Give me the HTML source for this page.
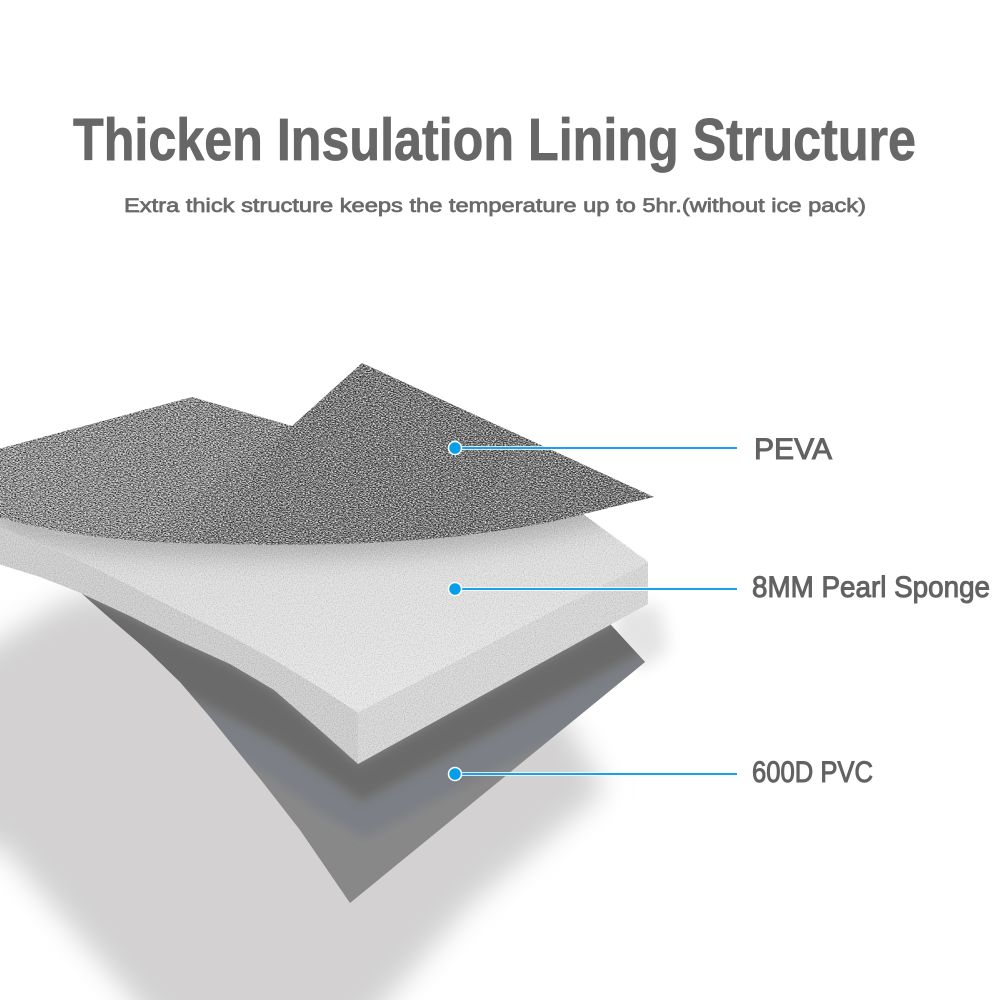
<!DOCTYPE html>
<html>
<head>
<meta charset="utf-8">
<style>
  html,body{margin:0;padding:0;background:#fff;}
  body{width:1000px;height:1000px;overflow:hidden;}
  svg{display:block;}
  text{font-family:"Liberation Sans", Arial, sans-serif;}
</style>
</head>
<body>
<svg width="1000" height="1000" viewBox="0 0 1000 1000" xmlns="http://www.w3.org/2000/svg">
  <defs>
    <filter id="b5" x="-20%" y="-20%" width="140%" height="140%"><feGaussianBlur stdDeviation="5"/></filter>
    <filter id="b8" x="-20%" y="-20%" width="140%" height="140%"><feGaussianBlur stdDeviation="8"/></filter>
    <filter id="b12" x="-20%" y="-20%" width="140%" height="140%"><feGaussianBlur stdDeviation="12"/></filter>
    <filter id="b14" x="-20%" y="-20%" width="140%" height="140%"><feGaussianBlur stdDeviation="14"/></filter>

    <filter id="fab" x="0" y="0" width="100%" height="100%" color-interpolation-filters="sRGB">
      <feTurbulence type="fractalNoise" baseFrequency="0.6 1.2" numOctaves="2" seed="7" result="t"/>
      <feColorMatrix in="t" type="matrix" values="0 0 0 0 0.1  0 0 0 0 0.1  0 0 0 0 0.1  -4.2 0 0 0 2.1" result="dark"/>
      <feColorMatrix in="t" type="matrix" values="0 0 0 0 0.9  0 0 0 0 0.9  0 0 0 0 0.9  4.2 0 0 0 -2.0" result="light"/>
      <feMerge><feMergeNode in="dark"/><feMergeNode in="light"/></feMerge>
    </filter>
    <filter id="foam" x="0" y="0" width="100%" height="100%" color-interpolation-filters="sRGB">
      <feTurbulence type="fractalNoise" baseFrequency="0.9" numOctaves="2" seed="3" result="t"/>
      <feColorMatrix in="t" type="matrix" values="0 0 0 0 0.5  0 0 0 0 0.5  0 0 0 0 0.5  -1.6 0 0 0 0.8" result="dark"/>
      <feColorMatrix in="t" type="matrix" values="0 0 0 0 1  0 0 0 0 1  0 0 0 0 1  1.6 0 0 0 -0.7" result="light"/>
      <feMerge><feMergeNode in="dark"/><feMergeNode in="light"/></feMerge>
    </filter>

    <clipPath id="cPeva">
      <path d="M-5,450 L192,397 L292,426 L362,363 L654,497 C615,506 585,514 555,521 C500,532 450,538 400,541 C330,546 250,545 180,543 C120,541 60,535 -5,516 Z"/>
    </clipPath>
    <clipPath id="cTop">
      <path d="M-5,505 L575,508 L648,562 L358,713 L320,688 L274,660 L230,636 L177,610 L130,586 L100,570 L63,553 L30,540 L-5,525 Z"/>
    </clipPath>
    <clipPath id="cSponge">
      <path d="M-5,505 L575,508 L648,560 L648,604 L358,764 L320,730 L274,690 L230,664 L177,640 L130,616 L76,591 L40,577 L-5,563 Z"/>
    </clipPath>
    <clipPath id="cPvc">
      <path d="M60,580 L80,592 L105,614 L147,650 L180,682 L210,717 L261,780 L300,830 L350,903 L645,662 L611,625 L600,600 Z"/>
    </clipPath>

    <linearGradient id="gPeva" x1="0" y1="0" x2="1" y2="0">
      <stop offset="0" stop-color="#8a8a8a"/>
      <stop offset="0.45" stop-color="#7a7a7a"/>
      <stop offset="1" stop-color="#6a6a6a"/>
    </linearGradient>
    <linearGradient id="gTop" x1="0" y1="0" x2="0.3" y2="1">
      <stop offset="0" stop-color="#d6d6d6"/>
      <stop offset="1" stop-color="#e6e6e6"/>
    </linearGradient>
  </defs>

  <rect width="1000" height="1000" fill="#ffffff"/>

  <!-- Title -->
  <text x="73" y="160" font-size="59" font-weight="bold" fill="#676767" stroke="#676767" stroke-width="0.8" textLength="843" lengthAdjust="spacingAndGlyphs">Thicken Insulation Lining Structure</text>
  <text x="124" y="212" font-size="19.5" fill="#6a6a6a" stroke="#6a6a6a" stroke-width="0.7" textLength="742" lengthAdjust="spacingAndGlyphs">Extra thick structure keeps the temperature up to 5hr.(without ice pack)</text>

  <!-- Floor shadow -->
  <path d="M-40,665 L60,603 L90,592 L300,640 L560,712 L605,790 L470,905 L360,1030 L160,1030 L0,845 L-40,845 Z" fill="#d3d1d1" filter="url(#b14)"/>
  <!-- faint shadow right of sponge -->
  <path d="M620,606 L660,606 L668,650 L640,670 L612,640 Z" fill="#e4e4e4" filter="url(#b8)"/>

  <!-- PVC -->
  <path d="M60,580 L80,592 L105,614 L147,650 L180,682 L210,717 L261,780 L300,830 L350,903 L645,662 L611,625 L600,600 Z" fill="#888888"/>
  <g clip-path="url(#cPvc)">
    <path d="M-5,640 L90,690 L180,730 L260,770 L320,812 L365,838 L668,680 L660,640 L362,800 L330,780 L280,745 L200,700 L100,650 L-5,600 Z" fill="#7c7f85" filter="url(#b5)"/>
    <path d="M-5,563 L40,577 L76,591 L130,616 L177,640 L230,664 L274,690 L320,730 L358,764 L648,604 L662,642 L362,802 L330,780 L280,745 L200,702 L100,652 L-5,602 Z" fill="#6b6b6b" filter="url(#b5)"/>
  </g>

  <!-- Sponge left front face -->
  <path d="M-5,515 L30,540 L63,553 L100,570 L130,586 L177,610 L230,636 L274,660 L320,688 L358,713 L358,764 L320,730 L274,690 L230,664 L177,640 L130,616 L76,591 L40,577 L-5,563 Z" fill="#cbcbcb"/>
  <!-- Sponge right front face -->
  <path d="M358,713 L648,562 L648,604 L358,764 Z" fill="#d5d5d5"/>
  <!-- Sponge top -->
  <path d="M-5,505 L575,508 L648,562 L358,713 L320,688 L274,660 L230,636 L177,610 L130,586 L100,570 L63,553 L30,540 L-5,525 Z" fill="url(#gTop)"/>
  <g clip-path="url(#cTop)">
    <path d="M-5,462 L192,409 L292,438 L362,375 L654,509 C615,518 585,526 555,533 C500,544 450,550 400,553 C330,558 250,557 180,555 C120,553 60,547 -5,528 Z" fill="#8a8a8a" opacity="0.6" filter="url(#b12)"/>
  </g>
  <rect x="0" y="500" width="650" height="270" filter="url(#foam)" clip-path="url(#cSponge)" opacity="0.6"/>

  <!-- PEVA -->
  <path d="M-5,450 L192,397 L292,426 L362,363 L654,497 C615,506 585,514 555,521 C500,532 450,538 400,541 C330,546 250,545 180,543 C120,541 60,535 -5,516 Z" fill="url(#gPeva)"/>
  <path d="M-5,450 L192,397 L292,426 L240,462 L180,510 L140,542 L60,535 L-5,516 Z" fill="#ffffff" opacity="0.08"/>
  <path d="M292,426 L362,363 L520,436 L470,536 L400,541 L300,544 L200,543 Z" fill="#000" opacity="0.05"/>
  <rect x="0" y="355" width="660" height="195" filter="url(#fab)" clip-path="url(#cPeva)"/>

  <!-- Connectors -->
  <g>
    <line x1="455" y1="448" x2="737" y2="448" stroke="#ffffff" stroke-width="4" opacity="0.8"/>
    <line x1="455" y1="448" x2="737" y2="448" stroke="#1aa2e6" stroke-width="2"/>
    <circle cx="455" cy="448" r="6.5" fill="#069ee8" stroke="#ffffff" stroke-width="1.5"/>

    <line x1="455" y1="589" x2="737" y2="589" stroke="#ffffff" stroke-width="4" opacity="0.8"/>
    <line x1="455" y1="589" x2="737" y2="589" stroke="#1aa2e6" stroke-width="2"/>
    <circle cx="455" cy="589" r="6.5" fill="#069ee8" stroke="#ffffff" stroke-width="1.5"/>

    <line x1="455" y1="774" x2="737" y2="774" stroke="#ffffff" stroke-width="4" opacity="0.8"/>
    <line x1="455" y1="774" x2="737" y2="774" stroke="#1aa2e6" stroke-width="2"/>
    <circle cx="455" cy="774" r="6.5" fill="#069ee8" stroke="#ffffff" stroke-width="1.5"/>
  </g>

  <!-- Labels -->
  <text x="754" y="459" font-size="30" fill="#626262" stroke="#626262" stroke-width="1" textLength="78" lengthAdjust="spacingAndGlyphs">PEVA</text>
  <text x="752" y="597" font-size="30" fill="#626262" stroke="#626262" stroke-width="1" textLength="238" lengthAdjust="spacingAndGlyphs">8MM Pearl Sponge</text>
  <text x="752" y="782" font-size="30" fill="#626262" stroke="#626262" stroke-width="1" textLength="121" lengthAdjust="spacingAndGlyphs">600D PVC</text>
</svg>
</body>
</html>
